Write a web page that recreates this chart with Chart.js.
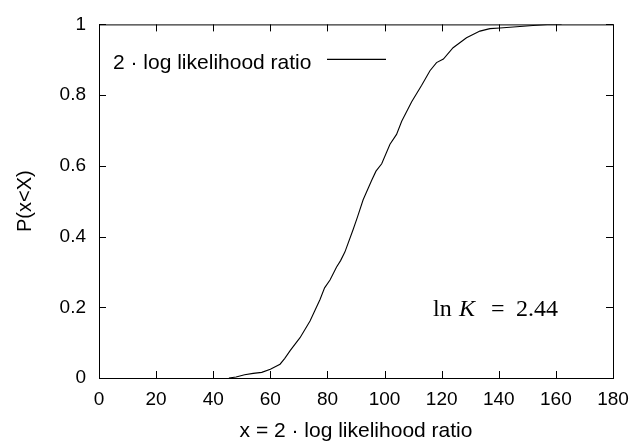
<!DOCTYPE html>
<html>
<head>
<meta charset="utf-8">
<script src="https://cdn.jsdelivr.net/npm/chart.js@4.4.1/dist/chart.umd.min.js"></script>
<style>
  html, body { margin: 0; padding: 0; background: #fff; }
  #wrap { width: 643px; height: 445px; position: relative; }
</style>
</head>
<body>
<div id="wrap"><canvas id="cdf"></canvas></div>
<script>
const llrX = [45.5, 48, 51, 54, 57, 60, 63.4, 65, 67, 70.4, 73.9, 77.4, 79, 80.9, 83.2, 84.6, 86.1,
  89, 90.5, 92.5, 95.5, 97, 99, 101.9, 104.2, 106, 109.5, 113, 115.9, 118.2, 120.6, 124,
  128.7, 133.4, 136.9, 140.4, 147.4, 152, 157, 162];
const llrP = [0, 0.003, 0.009, 0.013, 0.016, 0.025, 0.039, 0.055, 0.078, 0.114, 0.161, 0.222, 0.255, 0.277, 0.314, 0.332, 0.356,
  0.42, 0.455, 0.504, 0.559, 0.585, 0.606, 0.661, 0.689, 0.726, 0.781, 0.828, 0.869, 0.892, 0.902, 0.934,
  0.962, 0.981, 0.988, 0.990, 0.994, 0.997, 1.0, 1.0];
const xTicks = [0, 20, 40, 60, 80, 100, 120, 140, 160, 180];
const yTicks = [0, 0.2, 0.4, 0.6, 0.8, 1];
const seriesLabel = '2 \u00b7 log likelihood ratio';

const SANS = '"Liberation Sans", Arial, Helvetica, sans-serif';
const SERIF = '"Liberation Serif", "Times New Roman", serif';

// gnuplot style frame: border plus inward ticks on all four sides, legend, ln K label
const gnuplotFrame = {
  id: 'gnuplotFrame',
  afterDatasetsDraw(chart) {
    const { ctx, chartArea: a, scales: { x, y } } = chart;
    const tl = 7;
    ctx.save();
    ctx.strokeStyle = '#000';
    ctx.lineWidth = 1;
    ctx.strokeRect(a.left + 0.5, a.top + 0.5, a.right - a.left, a.bottom - a.top);
    ctx.beginPath();
    xTicks.forEach(v => {
      const px = Math.round(x.getPixelForValue(v)) + 0.5;
      ctx.moveTo(px, a.bottom); ctx.lineTo(px, a.bottom - tl);
      ctx.moveTo(px, a.top); ctx.lineTo(px, a.top + tl);
    });
    yTicks.forEach(v => {
      const py = Math.round(y.getPixelForValue(v)) + 0.5;
      ctx.moveTo(a.left, py); ctx.lineTo(a.left + tl, py);
      ctx.moveTo(a.right, py); ctx.lineTo(a.right - tl, py);
    });
    ctx.stroke();

    // legend (text, then sample line)
    ctx.fillStyle = '#000';
    ctx.font = '21px ' + SANS;
    ctx.textBaseline = 'alphabetic';
    ctx.textAlign = 'left';
    ctx.fillText(seriesLabel, a.left + 14, a.top + 45);
    ctx.beginPath();
    ctx.lineWidth = 1.1;
    ctx.moveTo(a.left + 228, a.top + 35);
    ctx.lineTo(a.left + 287, a.top + 35);
    ctx.stroke();

    // ln K = 2.44
    const bx = a.left + 334, by = a.top + 292;
    ctx.font = '24px ' + SERIF;
    ctx.fillText('ln', bx, by);
    ctx.font = 'italic 24px ' + SERIF;
    ctx.fillText('K', bx + 26, by);
    ctx.font = '24px ' + SERIF;
    ctx.fillText('=', bx + 58, by);
    ctx.fillText('2.44', bx + 83, by);
    ctx.restore();
  }
};

new Chart(document.getElementById('cdf').getContext('2d'), {
  type: 'scatter',
  data: {
    datasets: [{
      label: seriesLabel,
      data: llrX.map((v, i) => ({ x: v, y: llrP[i] })),
      showLine: true,
      borderColor: '#000',
      borderWidth: 1.1,
      pointRadius: 0,
      tension: 0
    }]
  },
  options: {
    responsive: true,
    maintainAspectRatio: false,
    animation: false,
    layout: { padding: { top: 18, right: 30, left: 0, bottom: 0 } },
    plugins: { legend: { display: false }, tooltip: { enabled: false } },
    scales: {
      x: {
        type: 'linear', min: 0, max: 180,
        afterFit: s => { s.height = 67; },
        afterBuildTicks: s => { s.ticks = xTicks.map(v => ({ value: v })); },
        grid: { display: false, drawTicks: false },
        border: { display: false },
        ticks: { padding: 10, color: '#000', font: { family: SANS, size: 19 }, maxRotation: 0, autoSkip: false },
        title: { display: true, text: 'x = 2 \u00b7 log likelihood ratio', color: '#000',
          font: { family: SANS, size: 21 }, padding: { top: 0, bottom: 1 } }
      },
      y: {
        type: 'linear', min: 0, max: 1,
        afterFit: s => { s.width = 99; },
        afterBuildTicks: s => { s.ticks = yTicks.map(v => ({ value: v })); },
        grid: { display: false, drawTicks: false },
        border: { display: false },
        ticks: { padding: 13, color: '#000', font: { family: SANS, size: 19 },
          callback: v => String(+v.toFixed(1)) },
        title: { display: true, text: 'P(x<X)', color: '#000',
          font: { family: SANS, size: 20 }, padding: { top: 13, bottom: 0 } }
      }
    }
  },
  plugins: [gnuplotFrame]
});
</script>
</body>
</html>
